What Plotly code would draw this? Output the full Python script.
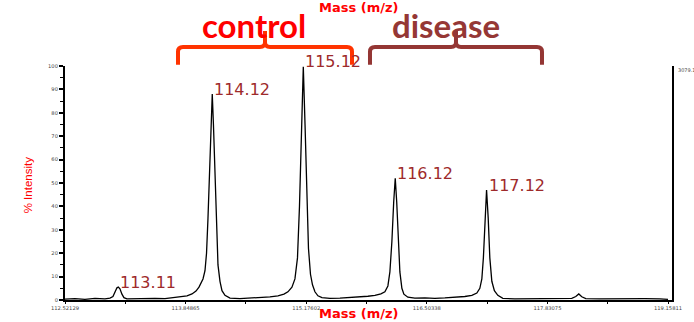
import plotly.graph_objects as go

# ---- spectrum data ----
mass = [112.521, 112.631, 112.741, 112.851, 112.961, 113.016, 113.049, 113.071, 113.093, 113.108,
        113.126, 113.148, 113.170, 113.203, 113.291, 113.401, 113.511, 113.622, 113.699, 113.787,
        113.864, 113.919, 113.963, 113.996, 114.018, 114.040, 114.062, 114.079, 114.095, 114.112,
        114.128, 114.142, 114.155, 114.172, 114.188, 114.205, 114.227, 114.249, 114.282, 114.337,
        114.447, 114.557, 114.667, 114.777, 114.865, 114.931, 114.975, 115.019, 115.052, 115.080,
        115.102, 115.122, 115.144, 115.163, 115.182, 115.201, 115.223, 115.245, 115.272, 115.305,
        115.349, 115.437, 115.547, 115.657, 115.767, 115.855, 115.932, 115.998, 116.042, 116.075,
        116.097, 116.119, 116.139, 116.156, 116.172, 116.191, 116.207, 116.229, 116.251, 116.295,
        116.372, 116.482, 116.592, 116.702, 116.812, 116.922, 116.999, 117.054, 117.087, 117.109,
        117.126, 117.142, 117.161, 117.179, 117.197, 117.219, 117.247, 117.285, 117.340, 117.472,
        117.637, 117.802, 117.967, 118.099, 118.143, 118.176, 118.209, 118.253, 118.407, 118.572,
        118.737, 118.902, 119.067, 119.158]
intensity = [0.4, 0.6, 0.3, 0.7, 0.5, 0.8, 1.5, 3.5, 5.2, 5.5,
             4.8, 2.5, 1.0, 0.5, 0.6, 0.4, 0.7, 0.6, 1.0, 1.3,
             1.8, 2.6, 3.8, 5.5, 7.0, 9.0, 12.5, 20, 35, 55,
             75, 88, 75, 52, 30, 15, 8, 4, 2, 0.8,
             0.6, 0.8, 1.0, 1.3, 1.8, 2.5, 3.5, 5.5, 9, 18,
             40, 70, 99.7, 75, 45, 22, 11, 6.5, 3.5, 1.8,
             1.0, 0.7, 0.8, 1.0, 1.2, 1.6, 2.0, 2.6, 3.5, 6,
             12, 25, 42, 52, 42, 24, 12, 5, 2.5, 1.2,
             0.8, 0.9, 0.7, 0.9, 1.1, 1.5, 2.0, 3.0, 5, 9,
             18, 35, 47, 35, 18, 8, 4, 2, 0.7, 0.5,
             0.6, 0.5, 0.6, 0.7, 1.5, 2.6, 1.4, 0.6, 0.5, 0.6,
             0.4, 0.6, 0.5, 0.3]

peak_mass = [113.108, 114.142, 115.144, 116.156, 117.161]
peak_int = [5.5, 88, 99.7, 52, 47]
peak_labels = ["113.11", "114.12", "115.12", "116.12", "117.12"]

x_tickvals = [112.52129, 113.84865, 115.17602, 116.50338, 117.83075, 119.15811]
x_ticktext = ["112.52129", "113.84865", "115.17602", "116.50338", "117.83075", "119.15811"]
x_minor = [113.18497, 114.51234, 115.83970, 117.16707, 118.49443]
y_tickvals = [0, 10, 20, 30, 40, 50, 60, 70, 80, 90, 100]
y_ticktext = [str(v) for v in y_tickvals]

groups = ["control", "disease"]
group_span = [(113.765, 115.680), (115.878, 117.771)]
group_text_color = ["#FF0000", "#953735"]
group_brace_color = ["#FF3300", "#943634"]
max_label = "3079.1"

fig = go.Figure()
fig.add_trace(go.Scatter(x=mass, y=intensity, mode="lines",
                         line=dict(color="black", width=1.3), hoverinfo="skip",
                         showlegend=False))

tick_font = dict(family="DejaVu Sans", size=5.2, color="#444444")
fig.update_xaxes(range=[112.52129, 119.2019], showgrid=False, zeroline=False,
                 showline=True, linecolor="black", linewidth=2, mirror=False,
                 tickmode="array", tickvals=x_tickvals, ticktext=x_ticktext,
                 ticks="outside", ticklen=2, tickwidth=1.2, tickcolor="black",
                 tickfont=tick_font, automargin=False,
                 minor=dict(tickmode="array", tickvals=x_minor, ticks="outside",
                            ticklen=2, tickwidth=1.2, tickcolor="black"))
fig.update_yaxes(range=[0, 100], showgrid=False, zeroline=False,
                 showline=True, linecolor="black", linewidth=2, mirror=True,
                 tickmode="array", tickvals=y_tickvals, ticktext=y_ticktext,
                 ticks="outside", ticklen=4, tickwidth=1.5, tickcolor="black",
                 tickfont=tick_font, automargin=False,
                 minor=dict(dtick=5, ticks="outside", ticklen=3, tickwidth=1.2,
                            tickcolor="black"))

ann = []
for m, v, t in zip(peak_mass, peak_int, peak_labels):
    ann.append(dict(x=m, y=v, text=t, showarrow=False, xanchor="left", yanchor="middle",
                    yshift=5, font=dict(family="DejaVu Sans", size=16, color="#9E2A2B")))

ann.append(dict(x=0.484, y=0, xref="paper", yref="paper", text="<b>Mass (m/z)</b>",
                showarrow=False, xanchor="center", yanchor="bottom", yshift=-22,
                borderpad=0,
                font=dict(family="DejaVu Sans", size=13, color="#FF0000")))
ann.append(dict(x=0.484, y=1.252, xref="paper", yref="paper", text="<b>Mass (m/z)</b>",
                showarrow=False, xanchor="center", yanchor="middle",
                font=dict(family="DejaVu Sans", size=13, color="#FF0000")))
ann.append(dict(x=-0.061, y=0.49, xref="paper", yref="paper", text="% Intensity",
                showarrow=False, textangle=-90, xanchor="center", yanchor="middle",
                font=dict(family="Liberation Sans", size=11.5, color="#FF0000")))
ann.append(dict(x=1.0, y=1.0, xref="paper", yref="paper", text=max_label,
                showarrow=False, xanchor="left", yanchor="top", xshift=4, yshift=1,
                font=dict(family="DejaVu Sans", size=5, color="#444444")))

shapes = []
r_x = 0.055
r_y = 0.02
y_bot, y_bar, y_tip = 1.005, 1.081, 1.15
for g, (a, b), tc, bc in zip(groups, group_span, group_text_color, group_brace_color):
    c = (a + b) / 2
    path = (f"M{a},{y_bot} L{a},{y_bar - r_y} Q{a},{y_bar} {a + r_x},{y_bar} "
            f"L{c - r_x},{y_bar} Q{c},{y_bar} {c},{y_bar + r_y} L{c},{y_tip} "
            f"M{c},{y_bar + r_y} Q{c},{y_bar} {c + r_x},{y_bar} "
            f"L{b - r_x},{y_bar} Q{b},{y_bar} {b},{y_bar - r_y} L{b},{y_bot}")
    shapes.append(dict(type="path", path=path, xref="x", yref="paper",
                       line=dict(color=bc, width=4), layer="above"))

ann.append(dict(x=0.311, y=1.175, xref="paper", yref="paper", text="<b>control</b>",
                showarrow=False, xanchor="center", yanchor="middle",
                font=dict(family="Lato", size=33, color=group_text_color[0])))
ann.append(dict(x=0.628, y=1.175, xref="paper", yref="paper", text="<b>disease</b>",
                showarrow=False, xanchor="center", yanchor="middle",
                font=dict(family="Lato", size=33, color=group_text_color[1])))

fig.update_layout(width=694, height=322, margin=dict(l=65, r=22, t=66, b=22),
                  plot_bgcolor="white", paper_bgcolor="white",
                  annotations=ann, shapes=shapes, showlegend=False)

fig.write_html("out.html", config={"displayModeBar": False},
               post_script="document.body.style.margin='0';")
